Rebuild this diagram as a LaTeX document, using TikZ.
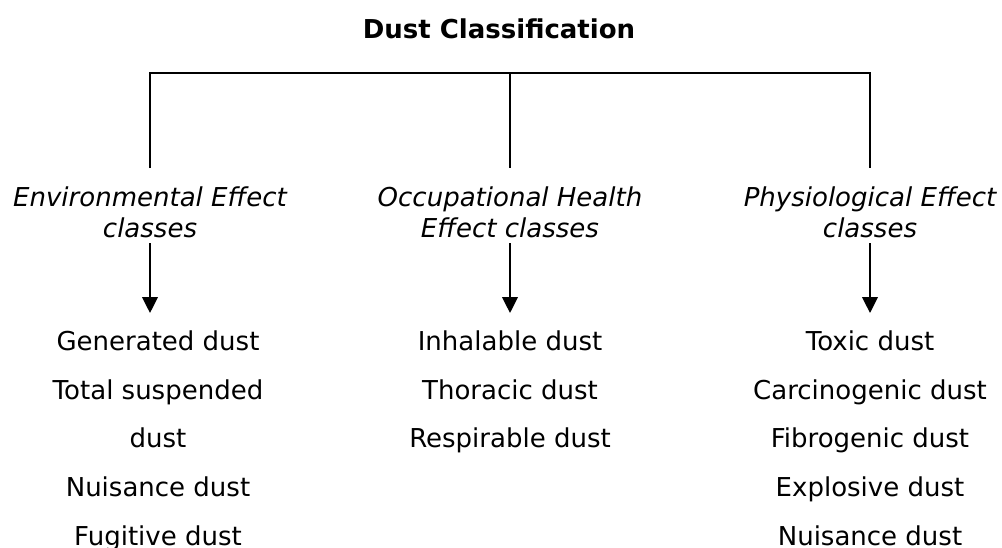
\documentclass[tikz,border=0pt]{standalone}
\usepackage{fontspec}
\setmainfont{DejaVu Sans}
\usetikzlibrary{arrows.meta}

\tikzset{every picture/.style={line width=0.75pt}}
\tikzset{
  heading/.style={anchor=base,inner sep=0pt,font=\fontsize{19.5pt}{23.4pt}\selectfont\bfseries},
  classlabel/.style={anchor=north,align=center,inner xsep=0pt,inner ysep=3.75pt,font=\fontsize{19.5pt}{23.25pt}\selectfont\itshape},
  dustlist/.style={anchor=north,align=center,inner xsep=0pt,inner ysep=12.75pt,font=\fontsize{19.5pt}{36.56pt}\selectfont},
  link/.style={line width=1.3pt},
  down/.style={line width=1.3pt,-{Triangle[width=11.75pt,length=12pt]}}
}

\begin{document}
\begin{tikzpicture}[x=0.75pt,y=0.75pt,yscale=-1,xscale=1]
\useasboundingbox (0,0) rectangle (1002,547);

% Text Node
\node[heading] (title) at (499,38) {Dust Classification};

% Text Node
\node[classlabel] (env) at (150,181) {Environmental Effect\\classes};
% Text Node
\node[classlabel] (occ) at (510,181) {Occupational Health\\Effect classes};
% Text Node
\node[classlabel] (phy) at (870,181) {Physiological Effect\\classes};

% Text Node
\node[dustlist] (envlist) at (158,313) {Generated dust\\Total suspended\\dust\\Nuisance dust\\Fugitive dust};
% Text Node
\node[dustlist] (occlist) at (510,313) {Inhalable dust\\Thoracic dust\\Respirable dust};
% Text Node
\node[dustlist] (phylist) at (870,313) {Toxic dust\\Carcinogenic dust\\Fibrogenic dust\\Explosive dust\\Nuisance dust};

%Straight Lines
\coordinate (hub) at (510,73);
\draw[link] ([yshift=-9.75pt]env.north) |- (hub) -| ([yshift=-9.75pt]phy.north);
\draw[link] (hub) -- ([yshift=-9.75pt]occ.north);

%Straight Lines
\draw[down] (env.south) -- (env.south |- envlist.north);
\draw[down] (occ.south) -- (occlist.north);
\draw[down] (phy.south) -- (phylist.north);

\end{tikzpicture}
\end{document}
